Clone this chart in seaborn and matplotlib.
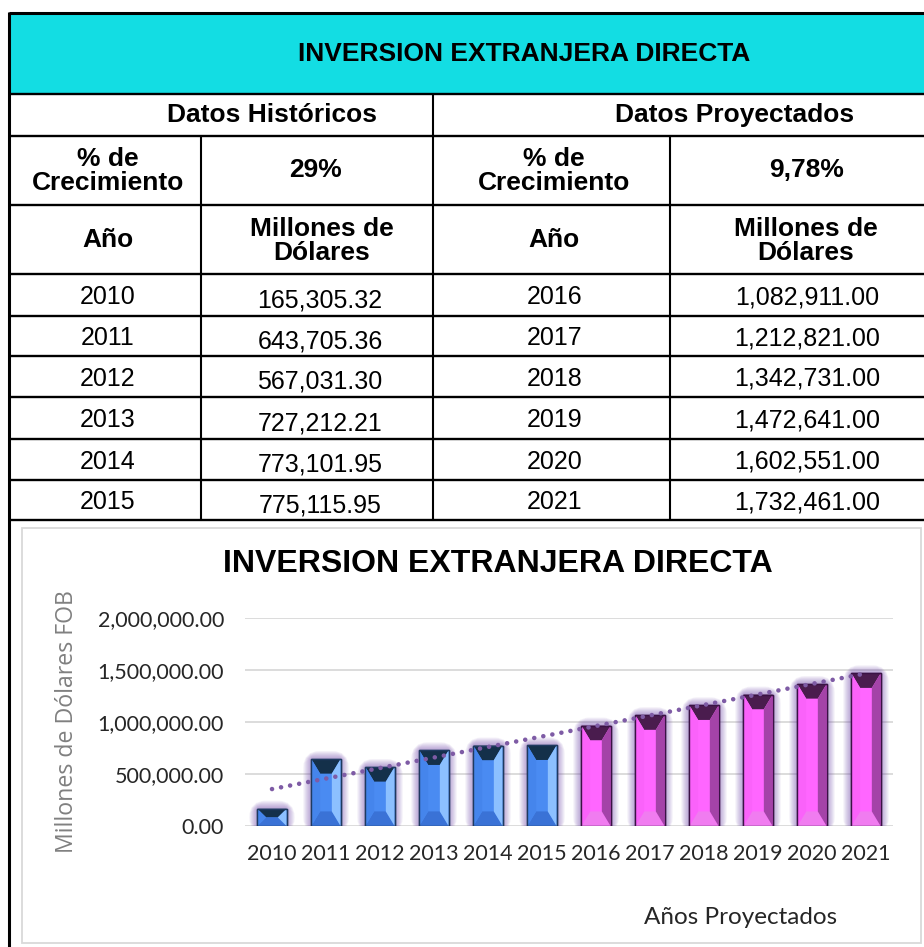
import numpy as np
import pandas as pd
import matplotlib
matplotlib.use("Agg")
import matplotlib.pyplot as plt
from matplotlib.patches import Polygon, Rectangle, FancyBboxPatch
from matplotlib.ticker import FuncFormatter
import seaborn as sns

# ---------------- data ----------------
table_title = "INVERSION EXTRANJERA DIRECTA"
hist_header = "Datos Históricos"
proj_header = "Datos Proyectados"
hist_growth = "29%"
proj_growth = "9,78%"
hist_years = [2010, 2011, 2012, 2013, 2014, 2015]
hist_values = [165305.32, 643705.36, 567031.30, 727212.21, 773101.95, 775115.95]
proj_years = [2016, 2017, 2018, 2019, 2020, 2021]
proj_table_values = [1082911.00, 1212821.00, 1342731.00, 1472641.00, 1602551.00, 1732461.00]
# projected bars as drawn in the chart
proj_chart_values = [965000, 1065000, 1160000, 1263000, 1365000, 1468000]
y_ticks = [0, 500000, 1000000, 1500000, 2000000]
chart_title = "INVERSION EXTRANJERA DIRECTA"
y_label = "Millones de Dólares FOB"
x_label = "Años Proyectados"

sns.set_style("white")
plt.rcParams["font.family"] = ["Liberation Sans", "DejaVu Sans"]

W, H = 924, 947
fig = plt.figure(figsize=(W / 100, H / 100), dpi=100)
fig.patch.set_facecolor("white")

# background axes in pixel coordinates (table + frames)
bg = fig.add_axes([0, 0, 1, 1], zorder=0)
bg.set_xlim(0, W)
bg.set_ylim(H, 0)
bg.axis("off")

# ---------------- table ----------------
L, R = 9, 924
rows = [13, 94, 136, 205, 274, 316, 356, 397, 439, 480, 520]
bg.add_patch(Rectangle((L, rows[0]), R - L, rows[1] - rows[0], facecolor="#13DDE3", edgecolor="none", zorder=1))
for i, y in enumerate(rows):
    bg.plot([L, R], [y, y], color="black", lw=2.2 if i == 0 else 1.7, solid_capstyle="butt", zorder=3)
bg.plot([L, L], [rows[0] - 1, H], color="black", lw=2.2, solid_capstyle="butt", zorder=3)
bg.plot([433, 433], [rows[1], rows[-1]], color="black", lw=1.5, zorder=3)
for cx in (201, 670):
    bg.plot([cx, cx], [rows[2], rows[-1]], color="black", lw=1.5, zorder=3)

bold = dict(fontsize=19, fontweight="bold", ha="center", va="center", color="black", zorder=4)
reg = dict(fontsize=18, ha="center", va="center", color="black", zorder=4)
bg.text(524, 54, table_title, **bold)
bg.text(272, 115, hist_header, **bold)
bg.text(735, 115, proj_header, **bold)
bg.text(108, 171, "% de\nCrecimiento", linespacing=1.0, **bold)
bg.text(316, 170, hist_growth, **bold)
bg.text(554, 171, "% de\nCrecimiento", linespacing=1.0, **bold)
bg.text(807, 170, proj_growth, **bold)
bg.text(108, 240, "Año", **bold)
bg.text(322, 241, "Millones de\nDólares", linespacing=1.0, **bold)
bg.text(554, 240, "Año", **bold)
bg.text(806, 241, "Millones de\nDólares", linespacing=1.0, **bold)
for i in range(6):
    yc = (rows[4 + i] + rows[5 + i]) / 2
    bg.text(108, yc + 2, str(hist_years[i]), **reg)
    bg.text(320, yc + 5, f"{hist_values[i]:,.2f}", **reg)
    bg.text(555, yc + 2, str(proj_years[i]), **reg)
    bg.text(807, yc + 2, f"{proj_table_values[i]:,.2f}", **reg)

# chart frame
bg.add_patch(Rectangle((22, 528), 921 - 22, 943 - 528, facecolor="none", edgecolor="#D9D9D9", lw=1.3, zorder=1))
bg.text(498, 564, chart_title, fontsize=23, fontweight="bold", ha="center", va="center", color="black")
bg.text(741, 917, x_label, fontsize=17.5, family=["Lato", "DejaVu Sans"], ha="center", va="center", color="#262626")

# ---------------- chart ----------------
ax = fig.add_axes([245 / W, (H - 826) / H, 648 / W, 208 / H], zorder=2)
ax.set_facecolor("none")
years = [str(y) for y in hist_years + proj_years]
values = hist_values + proj_chart_values
kind = ["hist"] * 6 + ["proj"] * 6
df = pd.DataFrame({"year": years, "value": values, "kind": kind})
sns.barplot(data=df, x="year", y="value", hue="kind", dodge=False, width=0.54,
            palette={"hist": "#4A8BF2", "proj": "#FF66FF"}, legend=False, ax=ax,
            saturation=1, zorder=2)
ax.set_ylim(0, 2000000)
ax.set_xlim(-0.5, 11.5)
ax.set_yticks(y_ticks)
ax.yaxis.set_major_formatter(FuncFormatter(lambda v, p: f"{v:,.2f}"))
ax.grid(axis="y", color="#D9D9D9", lw=1.3)
ax.grid(axis="x", visible=False)
ax.set_axisbelow(True)
for s in ax.spines.values():
    s.set_visible(False)
ax.tick_params(axis="both", length=0)
ax.tick_params(axis="y", pad=15)
ax.tick_params(axis="x", pad=13)
for lab in ax.get_xticklabels() + ax.get_yticklabels():
    lab.set_family(["Lato", "DejaVu Sans"])
    lab.set_fontsize(15.5)
    lab.set_color("#262626")
ax.set_xlabel("")
ax.set_ylabel(y_label, family=["Open Sans", "DejaVu Sans"], fontsize=16.7, color="#808080", va="center")
ax.yaxis.set_label_coords((67 - 245) / 648, 0.5)

# pixel scale for decorations
px_x = 1.0 / 54.0          # data units per pixel (x)
px_y = 2000000 / 208.0     # data units per pixel (y)

styles = {
    "hist": dict(edge="#1F3A60", top="#14304A", bottom="#3A72D6", left="#4585EC", right="#8CC0FF", glow="#6A3FA8"),
    "proj": dict(edge="#3A1245", top="#4A1C4E", bottom="#F07CF0", left="#FA62FA", right="#A443A8", glow="#6A3FA8"),
}
for patch, k in zip(ax.patches, kind):
    st = styles[k]
    x0 = patch.get_x(); w = patch.get_width(); h = patch.get_height(); x1 = x0 + w
    patch.set_edgecolor(st["edge"]); patch.set_linewidth(1.0)
    # soft glow
    for i in range(1, 9):
        ax.add_patch(FancyBboxPatch((x0, 0), w, h,
                                    boxstyle=f"round,pad=0,rounding_size={i * px_x}",
                                    mutation_aspect=px_y / px_x,
                                    facecolor="none", edgecolor=st["glow"],
                                    lw=i * 1.45, alpha=0.07, zorder=1.5))
    wpx = w / px_x
    hpx = h / px_y
    d = 0.3 * wpx
    t = min(0.5 * wpx, hpx / 2)
    dx = d * px_x; dt = t * px_y
    polys = [
        ([(x0, h), (x1, h), (x1 - dx, h - dt), (x0 + dx, h - dt)], st["top"]),
        ([(x0, 0), (x1, 0), (x1 - dx, dt), (x0 + dx, dt)], st["bottom"]),
        ([(x0, 0), (x0 + dx, dt), (x0 + dx, h - dt), (x0, h)], st["left"]),
        ([(x1, 0), (x1 - dx, dt), (x1 - dx, h - dt), (x1, h)], st["right"]),
    ]
    for pts, c in polys:
        ax.add_patch(Polygon(pts, closed=True, facecolor=c, edgecolor="none", zorder=2.1))
    ax.add_patch(Rectangle((x0, 0), w, h, facecolor="none", edgecolor=st["edge"], lw=1.0, zorder=2.2))

# linear trend line
xs = np.arange(len(values))
coef = np.polyfit(xs, values, 1)
ax.plot(xs, np.polyval(coef, xs), color="#7E5BA5", lw=3.3, linestyle=(0, (0.01, 2.0)),
        dash_capstyle="round", zorder=3)

fig.savefig("out.png", dpi=100, facecolor="white")
